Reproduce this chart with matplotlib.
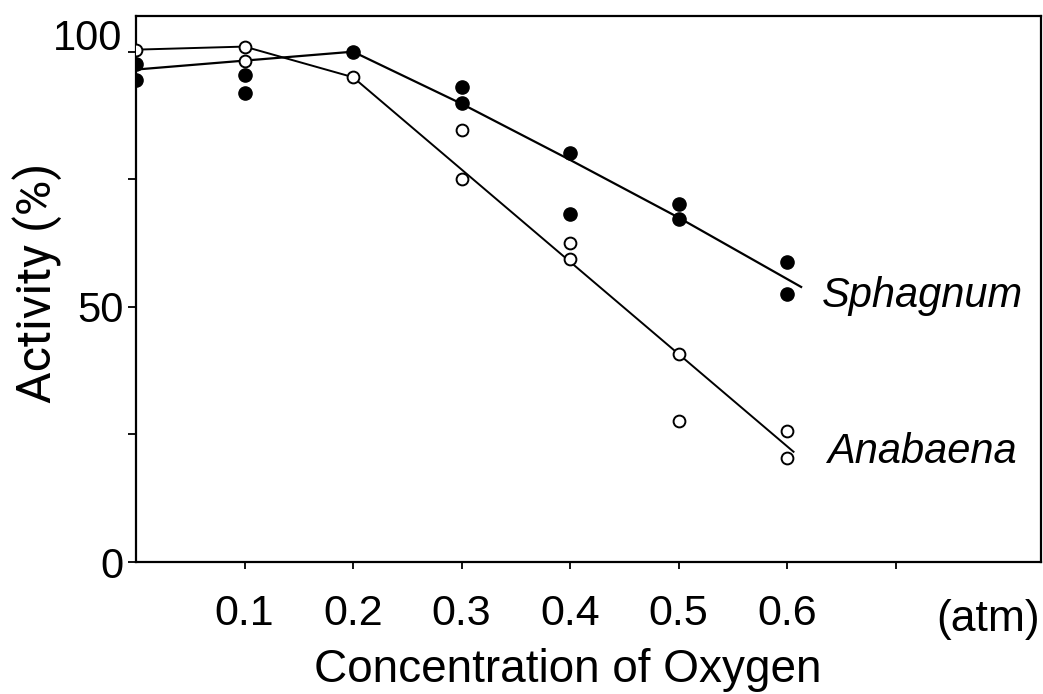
import matplotlib
matplotlib.use('Agg')
import matplotlib.pyplot as plt
from matplotlib import font_manager

# measured points (filled = Sphagnum, open = Anabaena)
sph_x = [0, 0, 0.1, 0.1, 0.2, 0.3, 0.3, 0.4, 0.4, 0.5, 0.5, 0.6, 0.6]
sph_y = [97.5, 94.5, 95.5, 92, 100, 93, 90, 80.2, 68.2, 70.2, 67.3, 58.8, 52.5]
ana_x = [0, 0.1, 0.1, 0.2, 0.3, 0.3, 0.4, 0.4, 0.5, 0.5, 0.6, 0.6]
ana_y = [100.4, 101, 98.2, 95, 84.7, 75, 62.5, 59.4, 40.8, 27.6, 25.7, 20.4]

# hand-drawn curves
sph_line_x = [0, 0.2, 0.3, 0.4, 0.5, 0.613]
sph_line_y = [96.5, 100, 89.8, 78.8, 67.5, 53.9]
ana_line_x = [0, 0.1, 0.2, 0.606]
ana_line_y = [100.4, 101, 95, 21.6]

xticks = [0.1, 0.2, 0.3, 0.4, 0.5, 0.6, 0.7]
xticklabels = ['0.1', '0.2', '0.3', '0.4', '0.5', '0.6', '']
yticks = [0, 25, 50, 75, 100]
yticklabels = ['0', '', '50', '', '']

# pick a narrow face for the digits if one is installed
names = {f.name for f in font_manager.fontManager.ttflist}
print(sorted(n for n in names if 'Narrow' in n or 'Condensed' in n))
narrow = [n for n in ['Liberation Sans Narrow', 'DejaVu Sans Condensed'] if n in names]
narrow = narrow + ['Liberation Sans', 'DejaVu Sans']
digits_size = 33 if narrow[0] != 'Liberation Sans' else 30

fig = plt.figure(figsize=(10.43, 6.94), dpi=100)
ax = fig.add_axes([0.1304, 0.1902, 0.8676, 0.7868])

ax.plot(sph_line_x, sph_line_y, color='black', lw=1.6, zorder=2)
ax.plot(ana_line_x, ana_line_y, color='black', lw=1.4, zorder=2)
ax.plot(sph_x, sph_y, 'o', ms=9.5, color='black', zorder=3)
ax.plot(ana_x, ana_y, 'o', ms=8.5, mfc='white', mec='black', mew=1.4, zorder=4)

ax.set_xlim(0, 0.834)
ax.set_ylim(0, 107)

ax.set_xticks(xticks)
ax.set_xticklabels(xticklabels, fontfamily=narrow, fontsize=digits_size + 1)
ax.set_yticks(yticks)
ax.set_yticklabels(yticklabels, fontfamily=narrow, fontsize=digits_size)
ax.tick_params(axis='x', direction='out', length=5, width=1.3, pad=18)
ax.tick_params(axis='y', direction='out', length=6, width=1.3, pad=3)
# the "100" sits a little above its level in the original
ax.annotate('100', xy=(0, 100), xycoords=('axes fraction', 'data'),
            xytext=(-10, 9), textcoords='offset points', ha='right', va='center',
            fontfamily=narrow, fontsize=digits_size)

for s in ax.spines.values():
    s.set_linewidth(1.6)

ax.set_xlabel('Concentration of Oxygen', fontfamily='Liberation Sans', fontsize=33)
ax.xaxis.set_label_coords(0.477, -0.158)
ax.set_ylabel('Activity (%)', fontfamily='Roboto', fontsize=35)
ax.yaxis.set_label_coords(-0.082, 0.511)

ax.text(0.9414, -0.106, '(atm)', transform=ax.transAxes, fontfamily='Liberation Sans',
        fontsize=32, ha='center', va='center')

ax.text(0.632, 50.0, 'Sphagnum', fontfamily='Liberation Sans', style='italic',
        fontsize=30, ha='left', va='baseline')
ax.text(0.637, 19.4, 'Anabaena', fontfamily='Liberation Sans', style='italic',
        fontsize=30, ha='left', va='baseline')

fig.savefig('out.png', dpi=100)
